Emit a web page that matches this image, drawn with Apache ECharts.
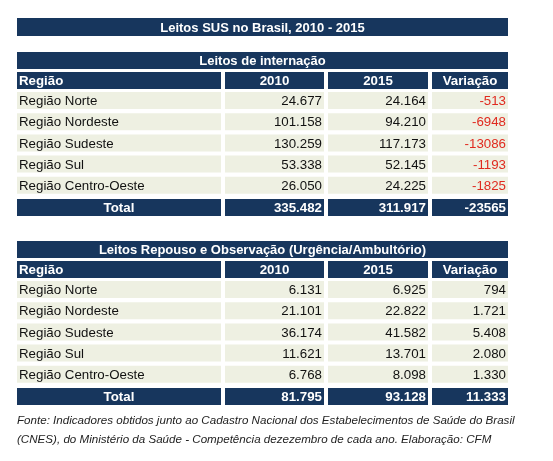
<!DOCTYPE html>
<html>
<head>
<meta charset="utf-8">
<script src="https://cdn.jsdelivr.net/npm/echarts@6/dist/echarts.min.js"></script>
<style>html,body{margin:0;padding:0;background:#fff}#main{width:553px;height:461px}</style>
</head>
<body>
<div id="main"></div>
<script>
// dados das tabelas
const title = 'Leitos SUS no Brasil, 2010 - 2015';
const columns = ['Região', '2010', '2015', 'Variação'];
const regions = ['Região Norte', 'Região Nordeste', 'Região Sudeste', 'Região Sul', 'Região Centro-Oeste'];

const internacaoTitle = 'Leitos de internação';
const internacao2010 = ['24.677', '101.158', '130.259', '53.338', '26.050'];
const internacao2015 = ['24.164', '94.210', '117.173', '52.145', '24.225'];
const internacaoVar = ['-513', '-6948', '-13086', '-1193', '-1825'];
const internacaoTotal = ['Total', '335.482', '311.917', '-23565'];

const repousoTitle = 'Leitos Repouso e Observação (Urgência/Ambultório)';
const repouso2010 = ['6.131', '21.101', '36.174', '11.621', '6.768'];
const repouso2015 = ['6.925', '22.822', '41.582', '13.701', '8.098'];
const repousoVar = ['794', '1.721', '5.408', '2.080', '1.330'];
const repousoTotal = ['Total', '81.795', '93.128', '11.333'];

const footnote = ['Fonte: Indicadores obtidos junto ao Cadastro Nacional dos Estabelecimentos de Saúde do Brasil',
  '(CNES), do Ministério da Saúde - Competência dezezembro de cada ano. Elaboração: CFM'];

const navy = '#17365d';
const rowBg = '#eef0e2';
const font = '"Liberation Sans", Arial, sans-serif';
const colX = [17, 225, 328, 432];
const colW = [204, 99, 100, 76];
const left = 17, width = 491;

let els = [];

function bar(y, h, text) {
  els.push({ type: 'rect', shape: { x: left, y: y, width: width, height: h }, style: { fill: navy } });
  els.push({ type: 'text', x: left + width / 2, y: y + h / 2 + 1, style: { text: text, fill: '#fff', font: 'bold 13px ' + font, align: 'center', verticalAlign: 'middle' } });
}

function row(y, h, cells, opt) {
  cells.forEach((c, i) => {
    els.push({ type: 'rect', shape: { x: colX[i], y: y, width: colW[i], height: h }, style: { fill: opt.bg } });
    let align = i === 0 ? (opt.centerFirst ? 'center' : 'left') : (opt.centerNums ? 'center' : 'right');
    let tx = align === 'left' ? colX[i] + 2 : align === 'center' ? colX[i] + colW[i] / 2 : colX[i] + colW[i] - 2;
    els.push({ type: 'text', x: tx, y: y + h / 2 + 1, style: { text: c, fill: opt.color(i), font: (opt.bold ? 'bold ' : '') + '13.3px ' + font, align: align, verticalAlign: 'middle' } });
  });
}

function table(top, name, v2010, v2015, vVar, total, varColor) {
  bar(top, 17, name);
  row(top + 20, 17, columns, { bg: navy, bold: true, color: () => '#fff', centerNums: true });
  regions.forEach((r, k) => {
    row(top + 40 + k * 21.2, 17, [r, v2010[k], v2015[k], vVar[k]], { bg: rowBg, color: i => i === 3 ? varColor : '#111' });
  });
  row(top + 147, 17, total, { bg: navy, bold: true, color: () => '#fff', centerFirst: true });
}

bar(18, 18, title);
table(52, internacaoTitle, internacao2010, internacao2015, internacaoVar, internacaoTotal, '#e02a1f');
table(241, repousoTitle, repouso2010, repouso2015, repousoVar, repousoTotal, '#111');
footnote.forEach((t, i) => {
  els.push({ type: 'text', x: 17, y: 421 + i * 19, style: { text: t, fill: '#222', font: 'italic 11.6px ' + font, align: 'left', verticalAlign: 'middle' } });
});

let chart = echarts.init(document.getElementById('main'));
chart.setOption({ animation: false, graphic: { elements: els } });
</script>
</body>
</html>
